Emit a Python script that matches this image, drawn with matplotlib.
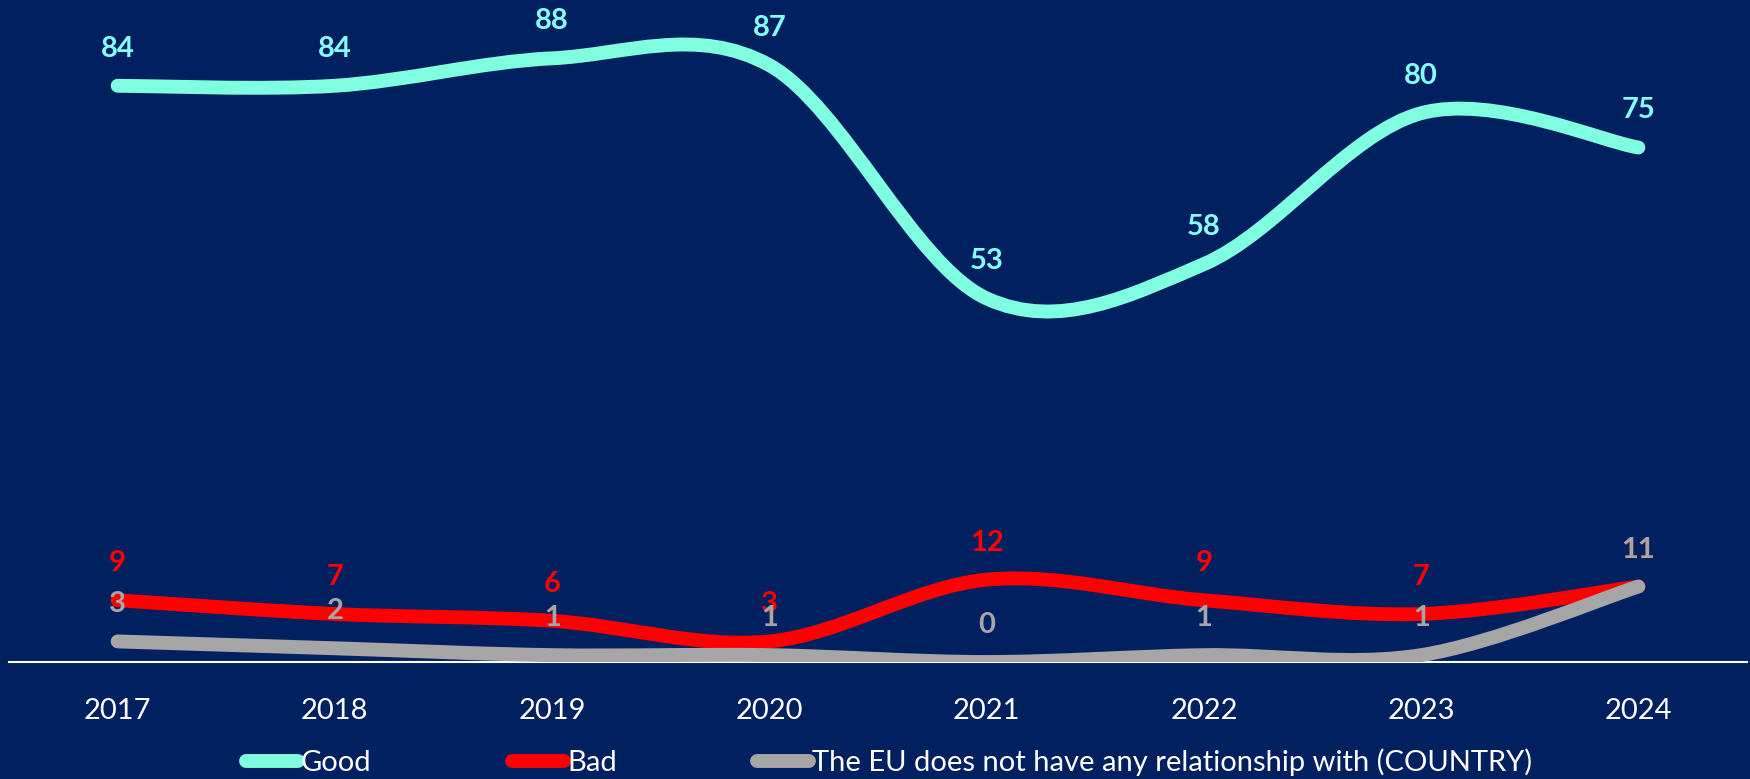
"""EU relationship perception 2017-2024: smoothed line chart on dark blue."""
import matplotlib
matplotlib.use("Agg")
import matplotlib.pyplot as plt
from matplotlib.path import Path
from matplotlib.patches import PathPatch
from matplotlib.lines import Line2D

years = ["2017", "2018", "2019", "2020", "2021", "2022", "2023", "2024"]
good = [84, 84, 88, 87, 53, 58, 80, 75]
bad = [9, 7, 6, 3, 12, 9, 7, 11]
no_rel = [3, 2, 1, 1, 0, 1, 1, 11]

series_names = ["Good", "Bad", "The EU does not have any relationship with (COUNTRY)"]
line_colors = ["#7FFFDF", "#FF0000", "#A6A6A6"]
label_colors = ["#86FFFF", "#FF0000", "#A6A6A6"]

BG = "#002060"
plt.rcParams["font.family"] = ["Lato", "DejaVu Sans"]


def smooth_path(ys):
    """Excel-style smoothed line: cubic Bezier through each point."""
    xs = list(range(len(ys)))
    pts = list(zip(xs, ys))
    n = len(pts)
    verts = [pts[0]]
    codes = [Path.MOVETO]
    for i in range(n - 1):
        p0 = pts[max(i - 1, 0)]
        p1 = pts[i]
        p2 = pts[i + 1]
        p3 = pts[min(i + 2, n - 1)]
        c1 = (p1[0] + (p2[0] - p0[0]) / 6, p1[1] + (p2[1] - p0[1]) / 6)
        c2 = (p2[0] - (p3[0] - p1[0]) / 6, p2[1] - (p3[1] - p1[1]) / 6)
        verts += [c1, c2, p2]
        codes += [Path.CURVE4] * 3
    return Path(verts, codes)


fig = plt.figure(figsize=(17.5, 7.79), dpi=100, facecolor=BG)
ax = fig.add_axes([9 / 1750, 1 - 662 / 779, 1738 / 1750, 662 / 779])
ax.set_facecolor(BG)

lw = 10
handles = []
for ys, name, lc, tc in zip([good, bad, no_rel], series_names, line_colors, label_colors):
    patch = PathPatch(smooth_path(ys), fill=False, edgecolor=lc, lw=lw,
                      capstyle="round", joinstyle="round", zorder=3)
    ax.add_patch(patch)
    for i, v in enumerate(ys):
        ax.annotate(str(v), (i, v), xytext=(0, 37), textcoords="offset pixels",
                    ha="center", va="center", color=tc, fontsize=21,
                    fontweight="bold", zorder=5)
    handles.append(Line2D([0], [0], color=lc, lw=lw, solid_capstyle="round", label=name))

ax.set_xlim(-0.5, len(years) - 0.5)
ax.set_ylim(0, 662 / 6.86)
ax.set_xticks(range(len(years)))
ax.set_xticklabels(years)
ax.tick_params(axis="x", length=0, pad=26, labelsize=21, labelcolor="white")
ax.set_yticks([])
for s in ["top", "right", "left"]:
    ax.spines[s].set_visible(False)
ax.spines["bottom"].set_color("white")
ax.spines["bottom"].set_linewidth(1.5)
ax.spines["bottom"].set_zorder(2)

fig.legend(handles=handles, loc="center", bbox_to_anchor=(889 / 1750, 1 - 762 / 779),
           ncol=3, frameon=False, fontsize=21, labelcolor="white",
           handlelength=1.8, handletextpad=0.1, columnspacing=4.8)

fig.savefig("out.png", dpi=100, facecolor=BG)
